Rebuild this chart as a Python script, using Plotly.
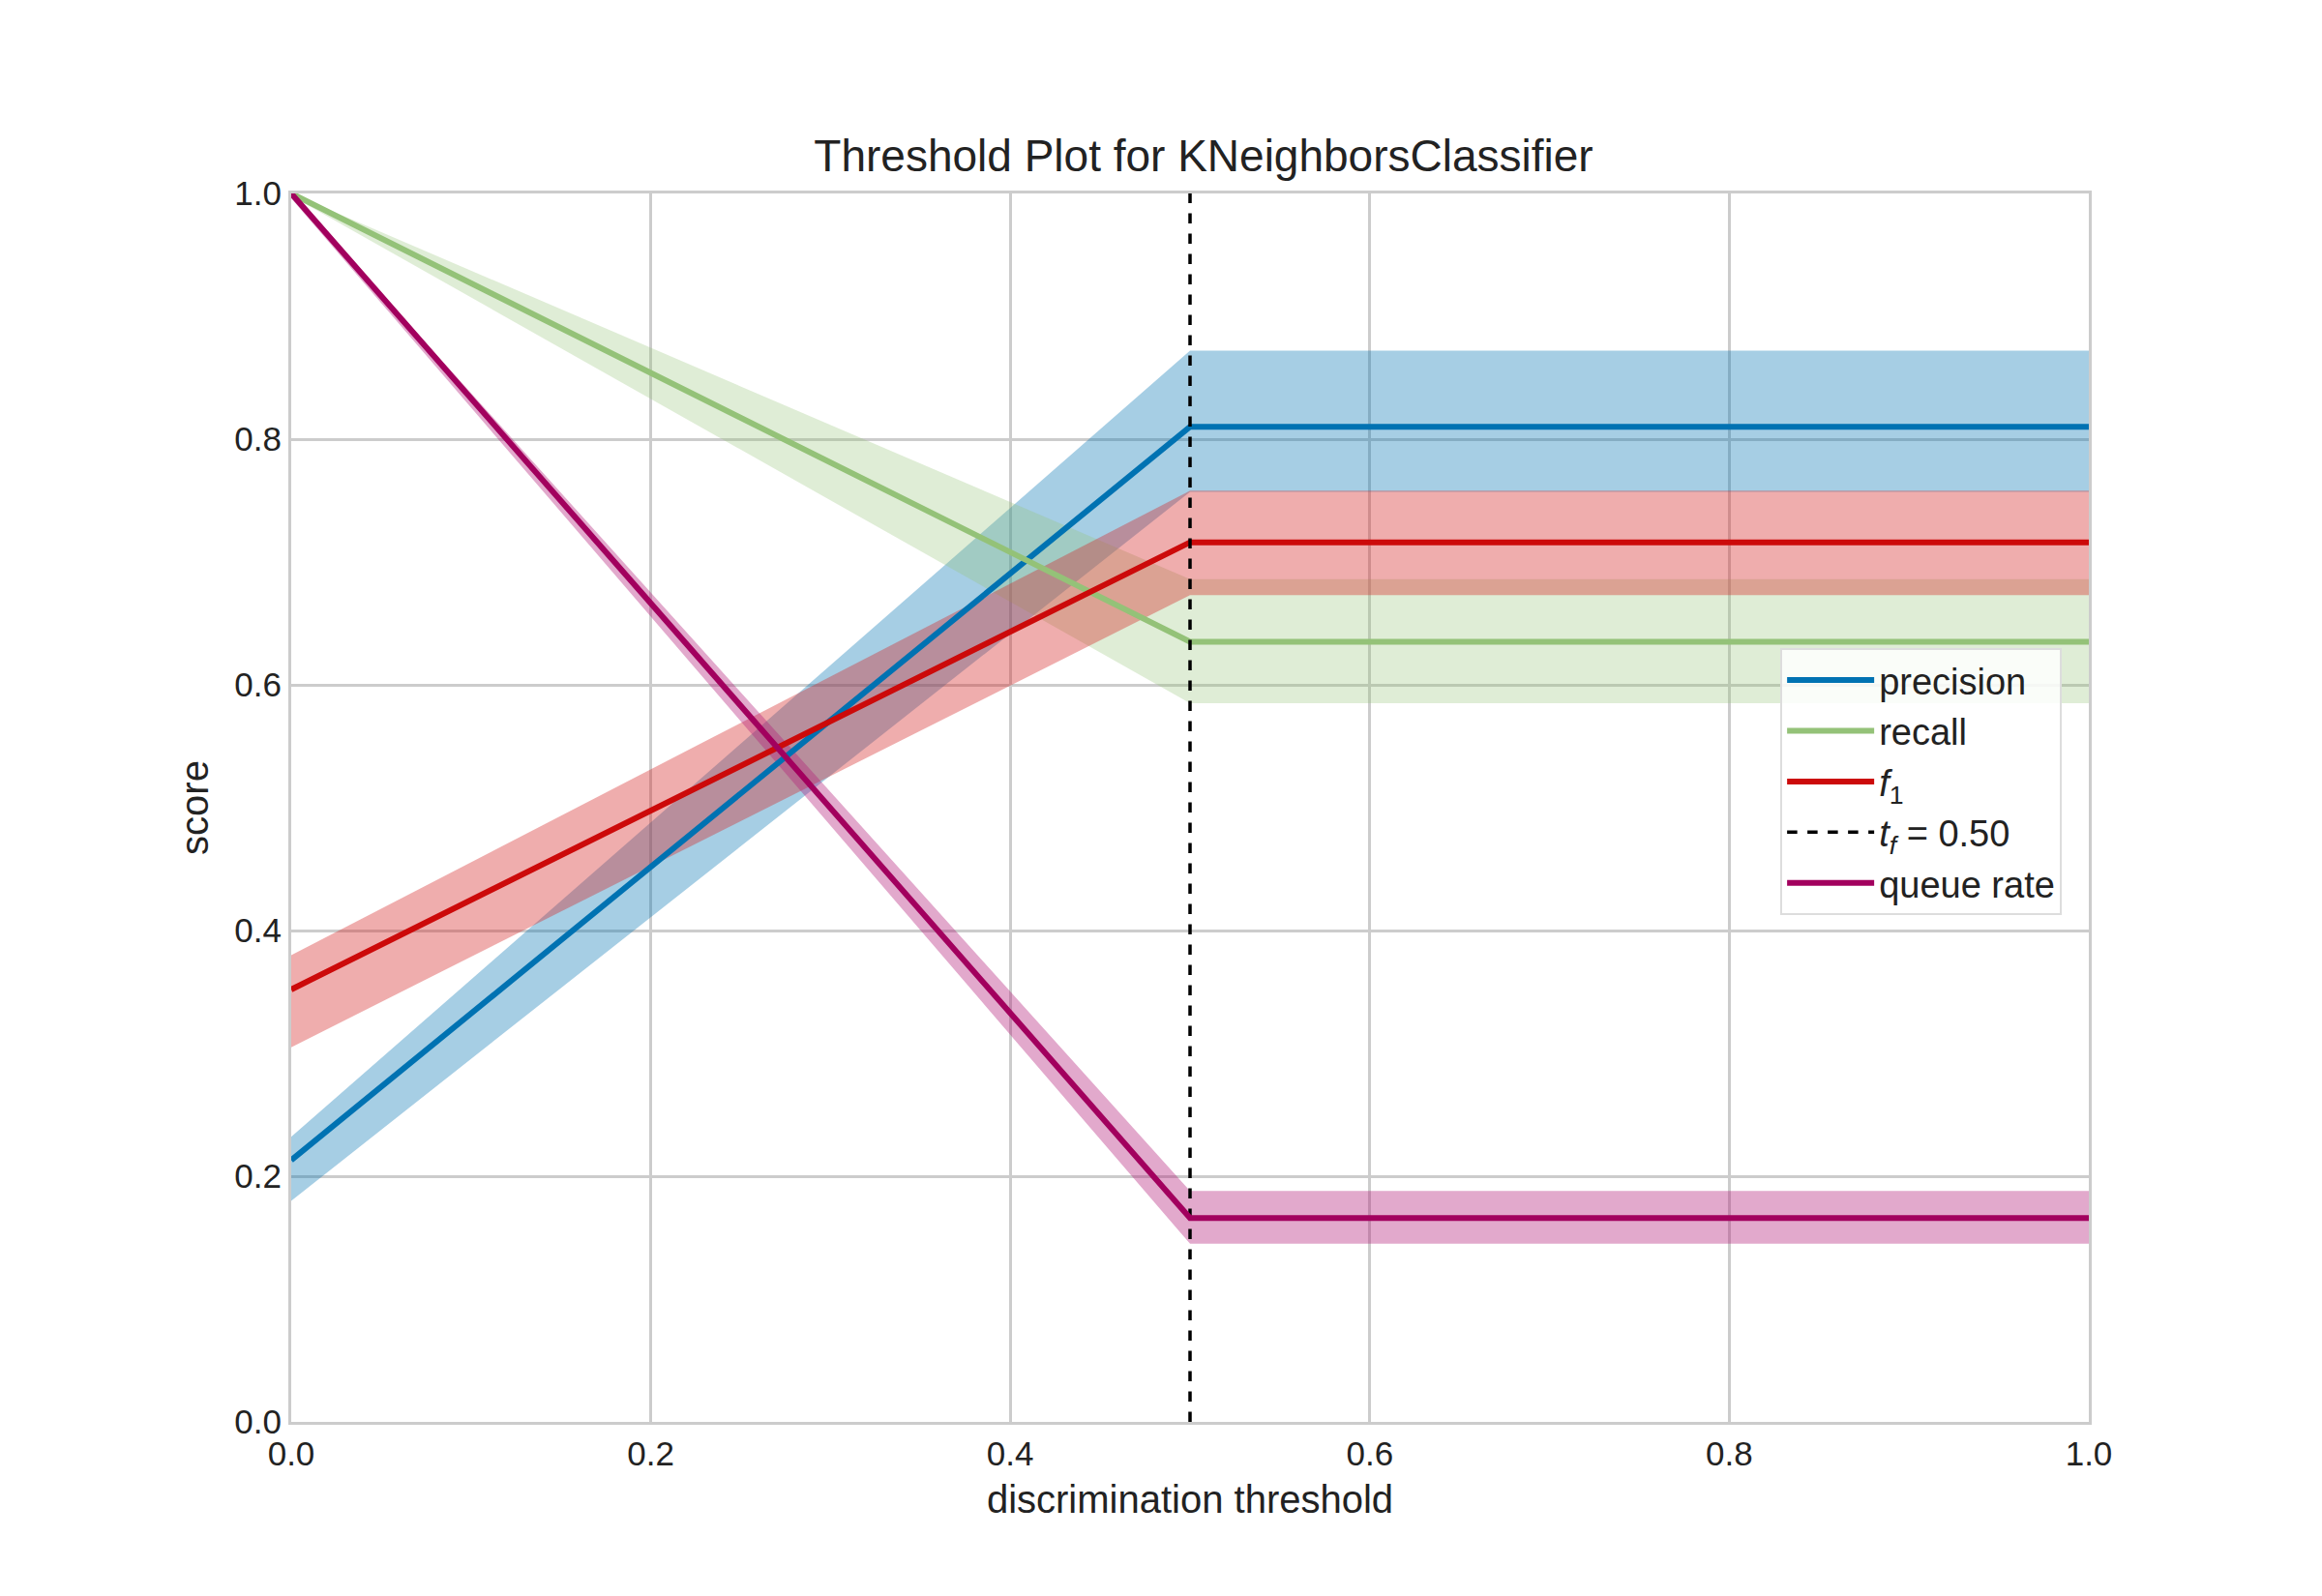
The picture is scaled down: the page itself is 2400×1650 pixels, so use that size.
import plotly.graph_objects as go

thresholds = [0.0, 0.5, 1.0]

precision = [0.213, 0.810, 0.810]
precision_lo = [0.180, 0.757, 0.757]
precision_hi = [0.232, 0.872, 0.872]

recall = [1.0, 0.635, 0.635]
recall_lo = [0.998, 0.585, 0.585]
recall_hi = [1.0, 0.686, 0.686]

f1 = [0.352, 0.716, 0.716]
f1_lo = [0.305, 0.673, 0.673]
f1_hi = [0.380, 0.758, 0.758]

queue = [1.0, 0.166, 0.166]
queue_lo = [0.996, 0.145, 0.145]
queue_hi = [1.0, 0.188, 0.188]

t_f = 0.5

series = [
    ("precision", precision, precision_lo, precision_hi, "#0072B2", "rgba(0,114,178,0.35)"),
    ("recall", recall, recall_lo, recall_hi, "#94C278", "rgba(148,194,120,0.3)"),
    ("<i>f</i><sub>1</sub>", f1, f1_lo, f1_hi, "#CC0A0A", "rgba(214,40,40,0.38)"),
    ("queue rate", queue, queue_lo, queue_hi, "#A2005E", "rgba(180,30,120,0.38)"),
]

fig = go.Figure()

# bands first
for name, y, lo, hi, col, fill in series:
    fig.add_trace(go.Scatter(x=thresholds, y=lo, mode="lines", line=dict(width=0),
                             showlegend=False, hoverinfo="skip"))
    fig.add_trace(go.Scatter(x=thresholds, y=hi, mode="lines", line=dict(width=0),
                             fill="tonexty", fillcolor=fill, showlegend=False, hoverinfo="skip"))

for name, y, lo, hi, col, fill in series:
    if name == "queue rate":
        fig.add_trace(go.Scatter(x=[t_f, t_f], y=[0, 1], mode="lines",
                                 line=dict(color="black", width=3.5, dash="dash"),
                                 name="<i>t<sub>f</sub></i> = 0.50"))
    fig.add_trace(go.Scatter(x=thresholds, y=y, mode="lines",
                             line=dict(color=col, width=6), name=name))

fig.update_layout(
    width=2400, height=1650,
    paper_bgcolor="white", plot_bgcolor="white",
    font=dict(family="Liberation Sans, Arial", size=34, color="#222222"),
    title=dict(text="Threshold Plot for KNeighborsClassifier", x=0.515, xanchor="center",
               y=0.917, font=dict(size=46)),
    margin=dict(l=293, r=249, t=192, b=188),
    legend=dict(x=0.985, y=0.63, xanchor="right", yanchor="top",
                bgcolor="rgba(255,255,255,0.85)", bordercolor="#dddddd", borderwidth=2,
                font=dict(size=38), traceorder="normal", itemwidth=90, tracegroupgap=0),
    showlegend=True,
)
axis = dict(showline=True, linecolor="#cccccc", linewidth=3, mirror=True,
            showgrid=True, gridcolor="#cccccc", gridwidth=3, zeroline=False,
            range=[0, 1], dtick=0.2, tickformat=".1f", ticks="", tickfont=dict(size=35))
fig.update_xaxes(title=dict(text="discrimination threshold", font=dict(size=40)), **axis)
fig.update_yaxes(title=dict(text="score", font=dict(size=40)), **axis)

fig.write_html("out.html")
